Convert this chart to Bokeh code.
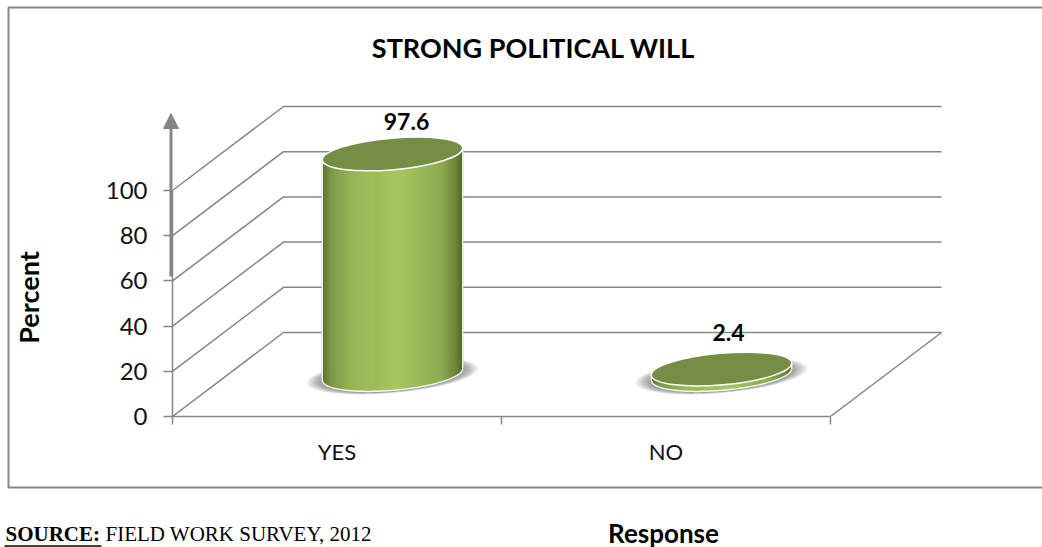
import numpy as np
from bokeh.core.properties import value
from bokeh.embed import file_html
from bokeh.layouts import column
from bokeh.models import Arrow, FixedTicker, LinearAxis, NormalHead, Range1d
from bokeh.plotting import figure
from bokeh.resources import INLINE

# Survey responses
categories = ["YES", "NO"]
percent = [97.6, 2.4]
value_labels = ["97.6", "2.4"]
percent_ticks = [0, 20, 40, 60, 80, 100]

TITLE = "STRONG POLITICAL WILL"
SOURCE_HEAD = "SOURCE:"
SOURCE_BODY = "FIELD WORK SURVEY, 2012"
X_TITLE = "Response"
Y_TITLE = "Percent"

# Pixel geometry of the oblique projection
W, H = 1042, 547
LEFT, BOTTOM = 172, 416          # origin of the front plane
PX_PER_CAT = 329.0
PX_PER_PCT = 2.26
DEPTH_X, DEPTH_Y = 111.0, 84.0   # full depth of the floor

GRID = "#868686"
TOP_GREEN = "#768d45"
FONT = "Lato"
SERIF = "Liberation Serif"

dx = DEPTH_X / PX_PER_CAT
dy = DEPTH_Y / PX_PER_PCT

# Backdrop sheet in page pixels: frame, titles, source note and the axis arrow
sheet = figure(
    width=W, height=H, output_backend="svg", toolbar_location=None,
    x_range=Range1d(0, W), y_range=Range1d(H, 0),
    x_axis_type=None, y_axis_type=None,
    min_border_left=0, min_border_right=0, min_border_top=0, min_border_bottom=0,
    outline_line_color=None, background_fill_color="white",
    frame_align=False,
)
sheet.grid.visible = False

sheet.line([W + 10, 8, 8, W + 10], [7, 7, 487, 487], line_color=GRID, line_width=2)


def sheet_text(x, y, txt, font, size, style="normal", align="center", angle=0.0):
    sheet.text(
        [x], [y], text=[txt], angle=angle,
        text_align=align, text_baseline="middle",
        text_font=value(font), text_font_style=style,
        text_font_size=size, text_color="black",
    )


sheet_text(533, 47, TITLE, FONT, "27px", "bold")
sheet_text(28, 297, Y_TITLE, FONT, "27px", "bold", angle=np.pi / 2)
sheet_text(663, 532, X_TITLE, FONT, "26px", "bold")
sheet_text(5, 533, SOURCE_HEAD, SERIF, "21px", "bold", align="left")
sheet_text(105, 533, SOURCE_BODY, SERIF, "21px", align="left")
sheet.line([4, 101], [545.5, 545.5], line_color="black", line_width=1.5)

sheet.add_layout(Arrow(
    end=NormalHead(size=15, fill_color=GRID, line_color=GRID),
    x_start=170.5, x_end=170.5, y_start=276, y_end=113,
    line_color=GRID, line_width=3,
))

# Chart sheet: real axes, walls and cylinders, transparent over the backdrop
p = figure(
    width=W, height=H, output_backend="svg", toolbar_location=None,
    x_range=Range1d(0, (W - LEFT) / PX_PER_CAT),
    y_range=Range1d(0, BOTTOM / PX_PER_PCT),
    x_axis_type=None, y_axis_type=None,
    min_border_left=LEFT, min_border_bottom=H - BOTTOM,
    min_border_top=0, min_border_right=0,
    outline_line_color=None, background_fill_color=None, border_fill_color=None,
    styles={"position": "absolute", "left": "0px", "top": "0px"},
    frame_align=False,
)
p.grid.visible = False

# Value axis
yax = LinearAxis(
    ticker=FixedTicker(ticks=percent_ticks), bounds=(0, 100),
    axis_line_color=GRID, axis_line_width=1.5,
    major_tick_line_color=GRID, major_tick_line_width=1.5,
    major_tick_in=0, major_tick_out=9, minor_tick_line_color=None,
    major_label_text_font=FONT, major_label_text_font_size="24px",
    major_label_text_color="#111111", major_label_standoff=16,
)
p.add_layout(yax, "left")

# Category axis: ticks on the category edges, labels at their centres
xax = LinearAxis(
    ticker=FixedTicker(ticks=[0.5, 1.5], minor_ticks=[0, 1, 2]), bounds=(0, 2),
    major_label_overrides={0.5: categories[0], 1.5: categories[1]},
    axis_line_color=GRID, axis_line_width=1.5,
    major_tick_line_color=None,
    minor_tick_line_color=GRID, minor_tick_line_width=1.5,
    minor_tick_in=0, minor_tick_out=8,
    major_label_text_font=FONT, major_label_text_font_size="22px",
    major_label_text_color="#111111", major_label_standoff=13,
)
p.add_layout(xax, "below")

# Side wall and back wall gridlines
n_cat = len(categories)
for t in percent_ticks:
    p.line([0, dx, n_cat + dx], [t, t + dy, t + dy], line_color=GRID, line_width=1.5)
# Right edge of the floor
p.line([n_cat, n_cat + dx], [0, dy], line_color=GRID, line_width=1.5)


def arc_point(cx, cy, a, b, theta, t):
    """Point on a rotated ellipse, in pixels relative to the centre."""
    return (cx + a * np.cos(t) * np.cos(theta) - b * np.sin(t) * np.sin(theta),
            cy + a * np.cos(t) * np.sin(theta) + b * np.sin(t) * np.cos(theta))


SEMI_A, SEMI_B, TILT = 70.5, 15.8, np.radians(5.0)
SHADE_POS = [0.0, 0.07, 0.22, 0.55, 0.85, 0.95, 1.0]
SHADE_R = [0x58, 0x80, 0x98, 0xa5, 0x8e, 0x70, 0x55]
SHADE_G = [0x6e, 0x9a, 0xb6, 0xc7, 0xab, 0x88, 0x69]
SHADE_B = [0x30, 0x48, 0x58, 0x63, 0x50, 0x3a, 0x2c]

phi = np.arctan2(SEMI_B * np.sin(TILT), SEMI_A * np.cos(TILT))
n_strips = 140
u_edges = np.linspace(0, 1, n_strips + 1)
t_edges = -phi - np.arccos(2 * u_edges - 1)

for i, v in enumerate(percent):
    xc = i + 0.5 + dx / 2
    yfloor = dy / 2
    xpx = xc * PX_PER_CAT
    h_px = v * PX_PER_PCT
    base_px = yfloor * PX_PER_PCT

    # Soft drop shadow on the floor
    for grow in np.linspace(16, 0, 16):
        p.ellipse(
            xc, yfloor - 0.5,
            width=2 * (SEMI_A + grow), height=2 * (SEMI_B + grow * 0.1),
            width_units="screen", height_units="screen", angle=TILT,
            fill_color="#404040", fill_alpha=0.045, line_color=None,
        )

    # Curved front of the cylinder as narrow vertical strips
    xt, yt = arc_point(xpx, base_px + h_px, SEMI_A, SEMI_B, TILT, t_edges)
    xb, yb = arc_point(xpx, base_px, SEMI_A, SEMI_B, TILT, t_edges)
    xs, ys, colors = [], [], []
    for s in range(n_strips):
        m = (s + 0.5) / n_strips
        r = np.interp(m, SHADE_POS, SHADE_R)
        g = np.interp(m, SHADE_POS, SHADE_G)
        bl = np.interp(m, SHADE_POS, SHADE_B)
        colors.append("#%02x%02x%02x" % (int(r), int(g), int(bl)))
        xs.append(np.array([xb[s], xb[s + 1], xt[s + 1], xt[s]]) / PX_PER_CAT)
        ys.append(np.array([yb[s], yb[s + 1], yt[s + 1], yt[s]]) / PX_PER_PCT)
    p.patches(xs, ys, fill_color=colors, line_color=colors, line_width=1)

    # White rim around the body
    rim_x = np.concatenate([xt[:1], xb, xt[-1:]]) / PX_PER_CAT
    rim_y = np.concatenate([yt[:1], yb, yt[-1:]]) / PX_PER_PCT
    p.line(rim_x, rim_y, line_color="white", line_width=1.5, line_alpha=0.9)

    # Top face
    p.ellipse(
        xc, yfloor + v,
        width=2 * SEMI_A, height=2 * SEMI_B,
        width_units="screen", height_units="screen", angle=TILT,
        fill_color=TOP_GREEN, line_color="white", line_width=1.5,
    )

# Value labels above each cylinder
label_offsets = [(14, -32), (7, -37)]
for i, (v, txt) in enumerate(zip(percent, value_labels)):
    p.text(
        [i + 0.5 + dx / 2], [dy / 2 + v], text=[txt],
        x_offset=label_offsets[i][0], y_offset=label_offsets[i][1],
        text_align="center", text_baseline="middle",
        text_font=value(FONT), text_font_style="bold",
        text_font_size="23px", text_color="black",
    )

layout = column(sheet, p, spacing=0)
open("out.html", "w").write(file_html(layout, INLINE))
